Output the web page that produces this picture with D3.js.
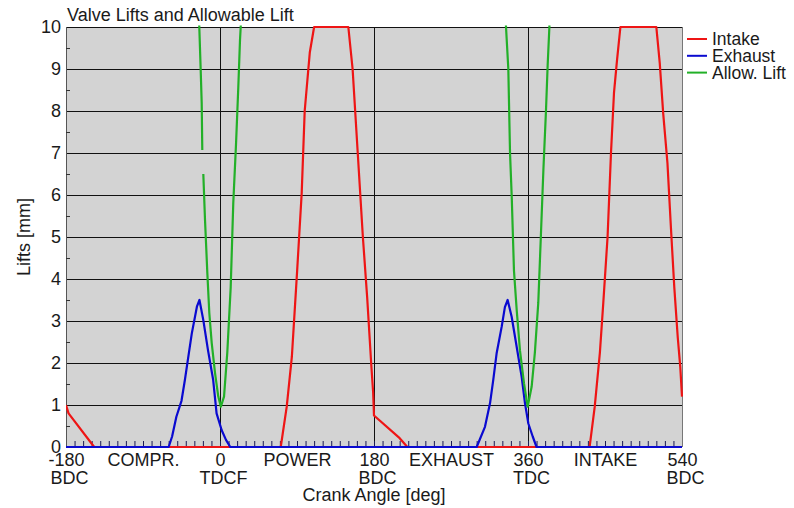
<!DOCTYPE html>
<html>
<head>
<meta charset="utf-8">
<script src="https://cdn.jsdelivr.net/npm/d3@7"></script>
<style>
  body { margin: 0; background: #fff; }
  svg text { font-family: "Liberation Sans", Arial, sans-serif; font-size: 18px; fill: #1a1a1a; }
</style>
</head>
<body>
<svg id="chart" width="794" height="508"></svg>
<script>
// values (crank angle in deg, lift in mm)
const intakeAngle = [-180, -177, -147, 71, 78, 84, 90, 95.5, 99, 105, 110, 150, 155, 161, 167, 172, 177, 179, 180, 210, 219,
  432, 438, 444, 448, 453, 457, 460.5, 464, 468, 510, 514, 518, 523, 527, 531, 535, 538, 540]
const intakeLift = [1.0, 0.8, 0, 0, 0.96, 2.15, 4.14, 6.05, 8.0, 9.4, 10, 10, 9.0, 7.0, 5.0, 3.57, 1.9, 1.3, 0.75, 0.21, 0,
  0, 0.96, 2.24, 3.43, 5.0, 7.0, 8.43, 9.2, 10, 10, 9.14, 7.95, 6.76, 5.24, 3.8, 2.62, 1.9, 1.2]

const exhaustAngle = [-180, -60, -56, -51, -45, -41, -37, -33, -27, -24, -19.5, -14, -8, -4, 2, 7, 12,
  300, 309.7, 315.6, 319.4, 323.4, 329.2, 333, 336.2, 340.9, 346.8, 352.6, 356.5, 360.4, 365.5, 370, 540]
const exhaustLift = [0, 0, 0.25, 0.72, 1.1, 1.6, 2.15, 2.7, 3.34, 3.5, 3.02, 2.3, 1.6, 0.8, 0.4, 0.17, 0,
  0, 0.48, 1.04, 1.6, 2.24, 2.86, 3.33, 3.5, 3.1, 2.38, 1.67, 1.04, 0.56, 0.25, 0, 0]

// null = gap in the allowable-lift curve
const allowAngle = [-25, -24.2, -22.6, -21.4, -20.7, -20.2, -19.5, -17.5, -14.8, -12.5, -9.7, -5.8, -2, 1, 4.7, 8.5, 12.5, 15.5, 18.7, 21.4, 23.4, 24.2, 25,
  333.5, 334.3, 337, 339, 341, 343.6, 346.8, 350.6, 355.3, 359.6, 364.3, 368, 372, 375, 378, 381, 383, 385, 385.5]
const allowLift = [10.6, 10, 9.0, 8.2, 7.07, null, 6.5, 5.4, 4.14, 3.19, 2.48, 1.76, 1.2, 0.96, 1.2, 2.24, 3.8, 5.8, 7.2, 8.57, 9.7, 10, 10.4,
  10.5, 10, 9.0, 7.0, 5.95, 4.2, 3.26, 2.3, 1.52, 0.96, 1.44, 2.24, 3.43, 5.0, 6.6, 8.0, 9.1, 10, 10.5]

const xTicks = [-180, -90, 0, 90, 180, 270, 360, 450, 540]
const xTickTop = ['-180', 'COMPR.', '0', 'POWER', '180', 'EXHAUST', '360', 'INTAKE', '540']
const xTickBottom = ['BDC', '', 'TDCF', '', 'BDC', '', 'TDC', '', 'BDC']
const yTicks = [0, 1, 2, 3, 4, 5, 6, 7, 8, 9, 10]
const strokeLines = [0, 180, 360]
const seriesNames = ['Intake', 'Exhaust', 'Allow. Lift']

const colors = ['#ee1515', '#0a0ad0', '#22b028']

const margin = { top: 27, right: 112, bottom: 61, left: 66 }
const width = 794 - margin.left - margin.right
const height = 508 - margin.top - margin.bottom

const svg = d3.select('#chart')
const g = svg.append('g').attr('transform', `translate(${margin.left},${margin.top})`)

const x = d3.scaleLinear().domain([-180, 540]).range([0, width])
const y = d3.scaleLinear().domain([0, 10]).range([height, 0])

g.append('rect')
  .attr('width', width)
  .attr('height', height)
  .attr('fill', '#d3d3d3')

svg.append('defs').append('clipPath').attr('id', 'plotclip')
  .append('rect')
    .attr('x', 0).attr('y', -1.5)
    .attr('width', width + 1).attr('height', height + 3)

// horizontal grid
g.append('g')
  .selectAll('line')
  .data(yTicks)
  .join('line')
    .attr('x1', 0).attr('x2', width)
    .attr('y1', d => y(d) + 0.5).attr('y2', d => y(d) + 0.5)
    .attr('stroke', '#111')
    .attr('stroke-width', 1)

// TDC / BDC lines
g.append('g')
  .selectAll('line')
  .data(strokeLines)
  .join('line')
    .attr('x1', d => Math.round(x(d)) + 0.5).attr('x2', d => Math.round(x(d)) + 0.5)
    .attr('y1', 0).attr('y2', height)
    .attr('stroke', '#111')

// borders
g.append('line')
  .attr('x1', 0.5).attr('x2', 0.5).attr('y1', 0).attr('y2', height)
  .attr('stroke', '#555')
g.append('line')
  .attr('x1', width + 0.5).attr('x2', width + 0.5).attr('y1', 0).attr('y2', height)
  .attr('stroke', '#777')

// minor ticks
g.append('g')
  .attr('transform', `translate(0,${height})`)
  .call(d3.axisBottom(x).tickValues(d3.range(-170, 540, 10)).tickSize(-6).tickFormat(''))
  .call(a => a.select('.domain').remove())
  .call(a => a.selectAll('.tick line').attr('stroke', '#1a1a55'))
g.append('g')
  .call(d3.axisLeft(y).tickValues(d3.range(0.5, 10, 1)).tickSize(-4).tickFormat(''))
  .call(a => a.select('.domain').remove())
  .call(a => a.selectAll('.tick line').attr('stroke', '#333'))

const line = d3.line()
  .defined(d => d[1] != null)
  .x(d => x(d[0]))
  .y(d => y(d[1]))

const series = [
  d3.zip(intakeAngle, intakeLift),
  d3.zip(exhaustAngle, exhaustLift),
  d3.zip(allowAngle, allowLift)
]

g.append('g')
  .attr('clip-path', 'url(#plotclip)')
  .selectAll('path')
  .data(series)
  .join('path')
    .attr('fill', 'none')
    .attr('stroke', (d, i) => colors[i])
    .attr('stroke-width', 2.2)
    .attr('stroke-linejoin', 'round')
    .attr('d', line)

// y labels
g.append('g')
  .call(d3.axisLeft(y).tickValues(yTicks).tickSize(0).tickPadding(5))
  .call(a => a.select('.domain').remove())
  .call(a => a.selectAll('text').style('font-size', '18px').attr('dy', '0.32em'))

// x labels, two rows
const xAxis = g.append('g')
  .attr('transform', `translate(0,${height})`)
  .call(d3.axisBottom(x).tickValues(xTicks).tickSize(0).tickFormat(''))
xAxis.select('.domain').remove()
xAxis.selectAll('.tick').each(function (d, i) {
  const t = d3.select(this).append('text')
    .attr('text-anchor', 'middle')
    .attr('y', 18.5)
  t.append('tspan').attr('x', 0).text(xTickTop[i])
  if (xTickBottom[i]) t.append('tspan').attr('x', 3).attr('dy', 18).text(xTickBottom[i])
})

g.append('text')
  .attr('x', width / 2)
  .attr('y', height + 54)
  .attr('text-anchor', 'middle')
  .text('Crank Angle [deg]')

g.append('text')
  .attr('transform', `translate(${-36},${height / 2}) rotate(-90)`)
  .attr('text-anchor', 'middle')
  .text('Lifts [mm]')

svg.append('text')
  .attr('x', 67)
  .attr('y', 21)
  .text('Valve Lifts and Allowable Lift')

// legend
const legend = svg.append('g').attr('transform', `translate(${margin.left + width + 5},39)`)
const item = legend.selectAll('g')
  .data(seriesNames)
  .join('g')
    .attr('transform', (d, i) => `translate(0,${i * 16.8})`)
item.append('line')
  .attr('x1', 0).attr('x2', 20)
  .attr('stroke', (d, i) => colors[i])
  .attr('stroke-width', 2)
item.append('text')
  .attr('x', 25)
  .attr('dy', '0.36em')
  .style('font-size', '17.5px')
  .text(d => d)
</script>
</body>
</html>
